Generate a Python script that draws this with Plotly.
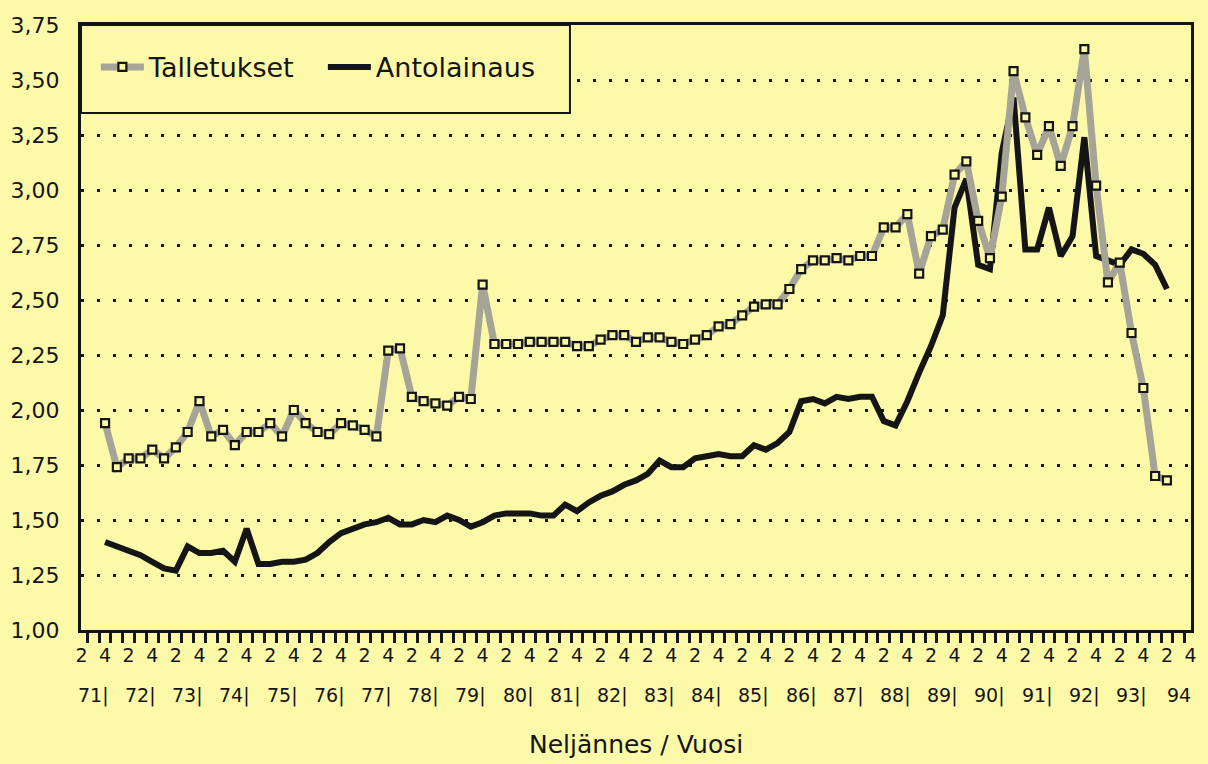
import plotly.graph_objects as go

# ---- data (quarterly, 1971 Q4 ... 1994 Q2) ----
start_year = 1971
start_quarter = 4

talletukset = [
    1.94, 1.74, 1.78, 1.78, 1.82, 1.78, 1.83, 1.90, 2.04, 1.88,
    1.91, 1.84, 1.90, 1.90, 1.94, 1.88, 2.00, 1.94, 1.90, 1.89,
    1.94, 1.93, 1.91, 1.88, 2.27, 2.28, 2.06, 2.04, 2.03, 2.02,
    2.06, 2.05, 2.57, 2.30, 2.30, 2.30, 2.31, 2.31, 2.31, 2.31,
    2.29, 2.29, 2.32, 2.34, 2.34, 2.31, 2.33, 2.33, 2.31, 2.30,
    2.32, 2.34, 2.38, 2.39, 2.43, 2.47, 2.48, 2.48, 2.55, 2.64,
    2.68, 2.68, 2.69, 2.68, 2.70, 2.70, 2.83, 2.83, 2.89, 2.62,
    2.79, 2.82, 3.07, 3.13, 2.86, 2.69, 2.97, 3.54, 3.33, 3.16,
    3.29, 3.11, 3.29, 3.64, 3.02, 2.58, 2.67, 2.35, 2.10, 1.70,
    1.68,
]

antolainaus = [
    1.40, 1.38, 1.36, 1.34, 1.31, 1.28, 1.27, 1.38, 1.35, 1.35,
    1.36, 1.31, 1.46, 1.30, 1.30, 1.31, 1.31, 1.32, 1.35, 1.40,
    1.44, 1.46, 1.48, 1.49, 1.51, 1.48, 1.48, 1.50, 1.49, 1.52,
    1.50, 1.47, 1.49, 1.52, 1.53, 1.53, 1.53, 1.52, 1.52, 1.57,
    1.54, 1.58, 1.61, 1.63, 1.66, 1.68, 1.71, 1.77, 1.74, 1.74,
    1.78, 1.79, 1.80, 1.79, 1.79, 1.84, 1.82, 1.85, 1.90, 2.04,
    2.05, 2.03, 2.06, 2.05, 2.06, 2.06, 1.95, 1.93, 2.04, 2.17,
    2.29, 2.43, 2.92, 3.05, 2.66, 2.64, 3.17, 3.42, 2.73, 2.73,
    2.92, 2.70, 2.79, 3.24, 2.70, 2.68, 2.66, 2.73, 2.71, 2.66,
    2.55,
]

axis_years = list(range(1971, 1995))
year_labels = ["71|", "72|", "73|", "74|", "75|", "76|", "77|", "78|",
               "79|", "80|", "81|", "82|", "83|", "84|", "85|", "86|",
               "87|", "88|", "89|", "90|", "91|", "92|", "93|", "94"]
quarter_labels = {2: "2", 4: "4"}
y_ticks = [1.00, 1.25, 1.50, 1.75, 2.00, 2.25, 2.50, 2.75, 3.00, 3.25, 3.50, 3.75]

names = ["Talletukset", "Antolainaus"]
x_title = "Neljännes / Vuosi"

# ---- build quarter positions ----
x = []
yy, qq = start_year, start_quarter
for _ in talletukset:
    x.append(yy + (qq - 1) / 4)
    qq += 1
    if qq > 4:
        qq = 1
        yy += 1

tickvals, ticktext = [], []
for yr in axis_years:
    for q, t in quarter_labels.items():
        tickvals.append(yr + (q - 1) / 4)
        ticktext.append(t)

# tick marks at the boundaries between quarters
boundary_ticks = []
for yr in axis_years:
    for q in range(4):
        boundary_ticks.append(yr + 0.125 + q * 0.25)

BG = "#FCF9A9"
INK = "#151515"
FONT = "DejaVu Sans, Liberation Sans, Arial, sans-serif"

fig = go.Figure()
fig.add_trace(go.Scatter(
    x=x, y=antolainaus, name=names[1], mode="lines",
    line=dict(color=INK, width=6),
))
fig.add_trace(go.Scatter(
    x=x, y=talletukset, name=names[0], mode="lines+markers",
    line=dict(color="#A5A496", width=7),
    marker=dict(symbol="square", size=8, color=BG, line=dict(color=INK, width=2.2)),
))

annotations = []
for yr, lab in zip(axis_years, year_labels):
    annotations.append(dict(
        x=yr + 0.5, y=0, xref="x", yref="paper", text=lab, showarrow=False,
        xanchor="center", yanchor="middle", yshift=-65,
        font=dict(family=FONT, size=19, color=INK),
    ))
annotations.append(dict(
    x=0.5, y=0, xref="paper", yref="paper", text=x_title, showarrow=False,
    xanchor="center", yanchor="middle", yshift=-114,
    font=dict(family=FONT, size=25, color=INK),
))

fig.update_layout(
    width=1208, height=764,
    margin=dict(l=80, r=11, t=25, b=134),
    paper_bgcolor=BG, plot_bgcolor=BG,
    separators=", ",
    font=dict(family=FONT, color=INK),
    showlegend=True,
    legend=dict(
        orientation="h", x=0.0134, y=0.93, xanchor="left", yanchor="middle",
        bgcolor="rgba(0,0,0,0)", borderwidth=0,
        font=dict(family=FONT, size=27, color=INK),
        itemwidth=43, traceorder="reversed",
        entrywidth=169, entrywidthmode="pixels",
    ),
    shapes=[dict(
        type="rect", xref="paper", yref="paper",
        x0=0, x1=0.4405, y0=0.8545, y1=1,
        line=dict(color=INK, width=2), fillcolor=BG, layer="above",
    )],
    annotations=annotations,
    xaxis=dict(
        range=[1971.24, 1994.76],
        tickmode="array", tickvals=tickvals, ticktext=ticktext,
        ticks="outside", ticklen=6, tickcolor="rgba(0,0,0,0)", tickwidth=1,
        ticklabelstandoff=0,
        tickfont=dict(family=FONT, size=19, color=INK),
        showgrid=False, zeroline=False,
        showline=True, mirror=True, linecolor=INK, linewidth=3,
        minor=dict(ticks="outside", tickmode="array", tickvals=boundary_ticks,
                   ticklen=10, tickwidth=3, tickcolor=INK, showgrid=False),
    ),
    yaxis=dict(
        range=[1.0, 3.75],
        tickmode="array", tickvals=y_ticks, tickformat=".2f",
        ticks="", ticklabelstandoff=14,
        tickfont=dict(family=FONT, size=22, color=INK),
        showgrid=True, gridcolor=INK, gridwidth=3, griddash="3px,13px",
        zeroline=False,
        showline=True, mirror=True, linecolor=INK, linewidth=3,
    ),
)

fig.write_html("out.html", config={"displayModeBar": False},
               post_script="document.body.style.margin='0px';")
